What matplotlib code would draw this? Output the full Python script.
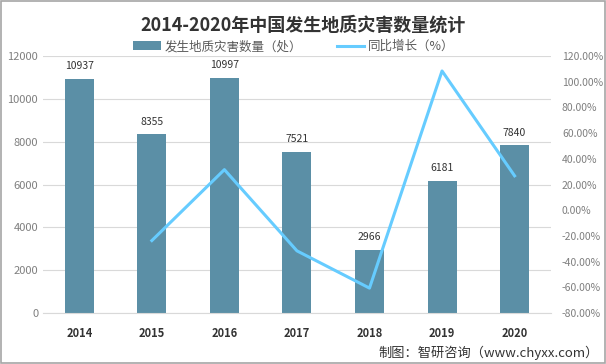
import matplotlib
matplotlib.use("Agg")
import matplotlib.pyplot as plt
from matplotlib.ticker import FuncFormatter
from matplotlib.patches import Rectangle

plt.rcParams['font.family'] = ['Noto Sans CJK SC', 'DejaVu Sans']

years = ['2014', '2015', '2016', '2017', '2018', '2019', '2020']
counts = [10937, 8355, 10997, 7521, 2966, 6181, 7840]
growth = [None, -23.6, 31.6, -31.6, -60.6, 108.4, 26.8]

bar_color = '#5B8FA6'
line_color = '#66CCFF'

fig = plt.figure(figsize=(6.06, 3.64), dpi=100)
ax = fig.add_axes([0.071, 0.14, 0.838, 0.706])
x = list(range(len(years)))
bars = ax.bar(x, counts, width=0.4, color=bar_color, zorder=2, label='发生地质灾害数量（处）')
for xi, v in zip(x, counts):
    ax.text(xi, v + 350, str(v), ha='center', va='bottom', fontsize=7.5, color='#333333')
ax.set_ylim(0, 12000)
ax.set_yticks(range(0, 12001, 2000))
ax.set_xlim(-0.5, 6.5)
ax.set_xticks(x)
ax.set_xticklabels(years, fontweight='bold', fontsize=8, color='#333333')
ax.grid(axis='y', color='#D9D9D9', linewidth=0.8, zorder=0)
for s in ax.spines.values():
    s.set_visible(False)
ax.spines['bottom'].set_visible(True)
ax.spines['bottom'].set_color('#D9D9D9')
ax.tick_params(axis='both', length=0, labelsize=8, colors='#7F7F7F')
ax.tick_params(axis='x', pad=10, colors='#333333')

ax2 = ax.twinx()
gx = [xi for xi, g in zip(x, growth) if g is not None]
gy = [g for g in growth if g is not None]
ax2.plot(gx, gy, color=line_color, linewidth=2.2, zorder=3, label='同比增长（%）')
ax2.set_ylim(-80, 120)
ax2.set_yticks(range(-80, 121, 20))
ax2.yaxis.set_major_formatter(FuncFormatter(lambda v, p: f'{v:.2f}%'))
ax2.tick_params(axis='y', length=0, labelsize=7.5, colors='#7F7F7F', pad=8)
for s in ax2.spines.values():
    s.set_visible(False)

fig.text(0.5, 0.93, '2014-2020年中国发生地质灾害数量统计', ha='center', va='center',
         fontsize=13, fontweight='bold', color='#333333')
h1, l1 = ax.get_legend_handles_labels()
h2, l2 = ax2.get_legend_handles_labels()
fig.legend(h1 + h2, l1 + l2, loc='center', bbox_to_anchor=(0.485, 0.872), ncol=2,
           frameon=False, fontsize=9, handlelength=2.2, handletextpad=0.3,
           columnspacing=2.8, labelcolor='#595959')
fig.text(0.988, 0.03, '制图：智研咨询（www.chyxx.com）', ha='right', va='center',
         fontsize=9.5, color='#333333')
fig.patches.append(Rectangle((0.002, 0.003), 0.996, 0.994, transform=fig.transFigure,
                             fill=False, edgecolor='#A6A6A6', linewidth=1.2))
fig.savefig('out.png', dpi=100, facecolor='white')
